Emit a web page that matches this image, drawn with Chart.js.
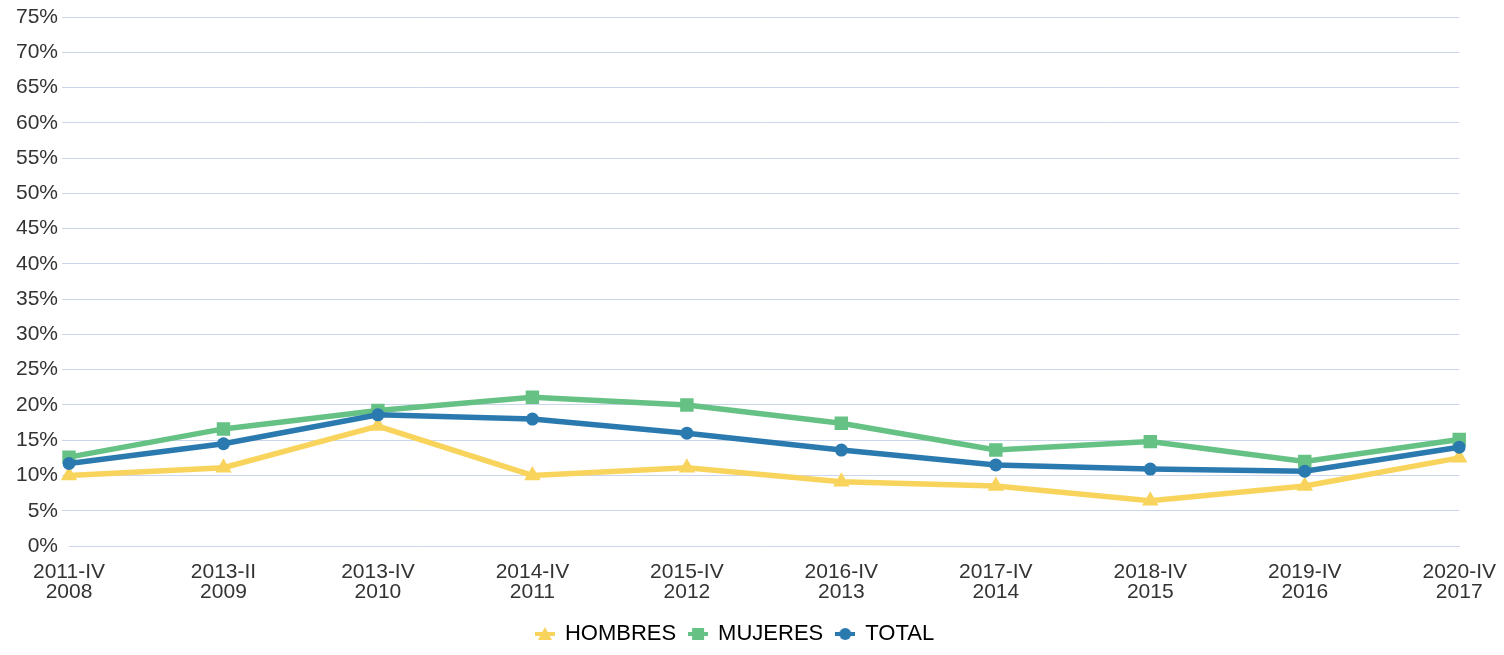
<!DOCTYPE html>
<html><head><meta charset="utf-8">
<script src="https://cdn.jsdelivr.net/npm/chart.js@4/dist/chart.umd.min.js"></script>
<style>html,body{margin:0;padding:0;background:#fff;}canvas{display:block;}</style>
</head><body>
<canvas id="c" width="1504" height="655"></canvas>
<script>
const categories = [['2011-IV','2008'],['2013-II','2009'],['2013-IV','2010'],['2014-IV','2011'],['2015-IV','2012'],['2016-IV','2013'],['2017-IV','2014'],['2018-IV','2015'],['2019-IV','2016'],['2020-IV','2017']];
const seriesNames = ['HOMBRES','MUJERES','TOTAL'];
const hombres = [10.0, 11.1, 17.0, 10.0, 11.1, 9.1, 8.5, 6.4, 8.5, 12.5];
const mujeres = [12.6, 16.6, 19.2, 21.1, 20.0, 17.4, 13.6, 14.8, 12.0, 15.1];
const total = [11.7, 14.5, 18.6, 18.0, 16.0, 13.6, 11.5, 10.9, 10.6, 14.0];
const yMin = 0, yMax = 75, yStep = 5;

const colors = ['#f9d45c', '#66c184', '#2a7ab0'];
const styles = ['triangle', 'rect', 'circle'];
const radii = [9.5, 9.5, 6.5];

function legendIcon(color, style) {
  const c = document.createElement('canvas');
  c.width = 20; c.height = 16;
  const ctx = c.getContext('2d');
  ctx.fillStyle = color;
  ctx.fillRect(0, 6, 20, 4);
  ctx.beginPath();
  if (style === 'triangle') {
    ctx.moveTo(10, 1); ctx.lineTo(17, 14); ctx.lineTo(3, 14); ctx.closePath();
  } else if (style === 'rect') {
    ctx.rect(4, 2, 12, 12);
  } else {
    ctx.arc(10, 8, 6, 0, Math.PI * 2);
  }
  ctx.fill();
  return c;
}

const font = "'Liberation Sans', Arial, sans-serif";
const dataSets = [hombres, mujeres, total].map((d, i) => ({
  label: seriesNames[i],
  data: d,
  borderColor: colors[i],
  backgroundColor: colors[i],
  borderWidth: 5.5,
  pointStyle: styles[i],
  pointRadius: radii[i],
  pointHoverRadius: radii[i],
  pointBorderWidth: 0,
  tension: 0,
  order: 2 - i,
  legendIcon: legendIcon(colors[i], styles[i])
}));

new Chart(document.getElementById('c'), {
  type: 'line',
  data: { labels: categories, datasets: dataSets },
  options: {
    responsive: false,
    animation: false,
    layout: { padding: { top: 17, right: 34, left: 0, bottom: 0 } },
    plugins: {
      tooltip: { enabled: false },
      legend: {
        position: 'bottom',
        labels: {
          usePointStyle: true,
          pointStyleWidth: 18,
          padding: 13,
          color: '#333333',
          font: { family: font, size: 22 },
          sort: (a, b) => a.datasetIndex - b.datasetIndex,
          generateLabels: (chart) => chart.data.datasets.map((ds, i) => ({
            text: ds.label,
            fillStyle: ds.backgroundColor,
            strokeStyle: ds.borderColor,
            lineWidth: 0,
            pointStyle: ds.legendIcon,
            datasetIndex: i,
            hidden: false
          }))
        }
      }
    },
    scales: {
      x: {
        grid: { display: false },
        border: { display: true, color: '#ccd6eb', width: 1 },
        ticks: {
          color: '#333333',
          font: { family: font, size: 21, lineHeight: 0.95 },
          maxRotation: 0, minRotation: 0, autoSkip: false, padding: 8
        },
        afterFit: (s) => { s.height = 64; }
      },
      y: {
        min: yMin, max: yMax,
        grid: {
          color: (ctx) => (ctx.tick && ctx.tick.value === 0) ? 'rgba(0,0,0,0)' : '#ccd6eb',
          tickLength: 7,
          lineWidth: 1
        },
        border: { display: false },
        ticks: {
          stepSize: yStep,
          color: '#333333',
          padding: 4,
          font: { family: font, size: 21 },
          callback: (v) => v + '%'
        },
        afterFit: (s) => { s.width = 69; }
      }
    }
  }
});
</script>
</body></html>
